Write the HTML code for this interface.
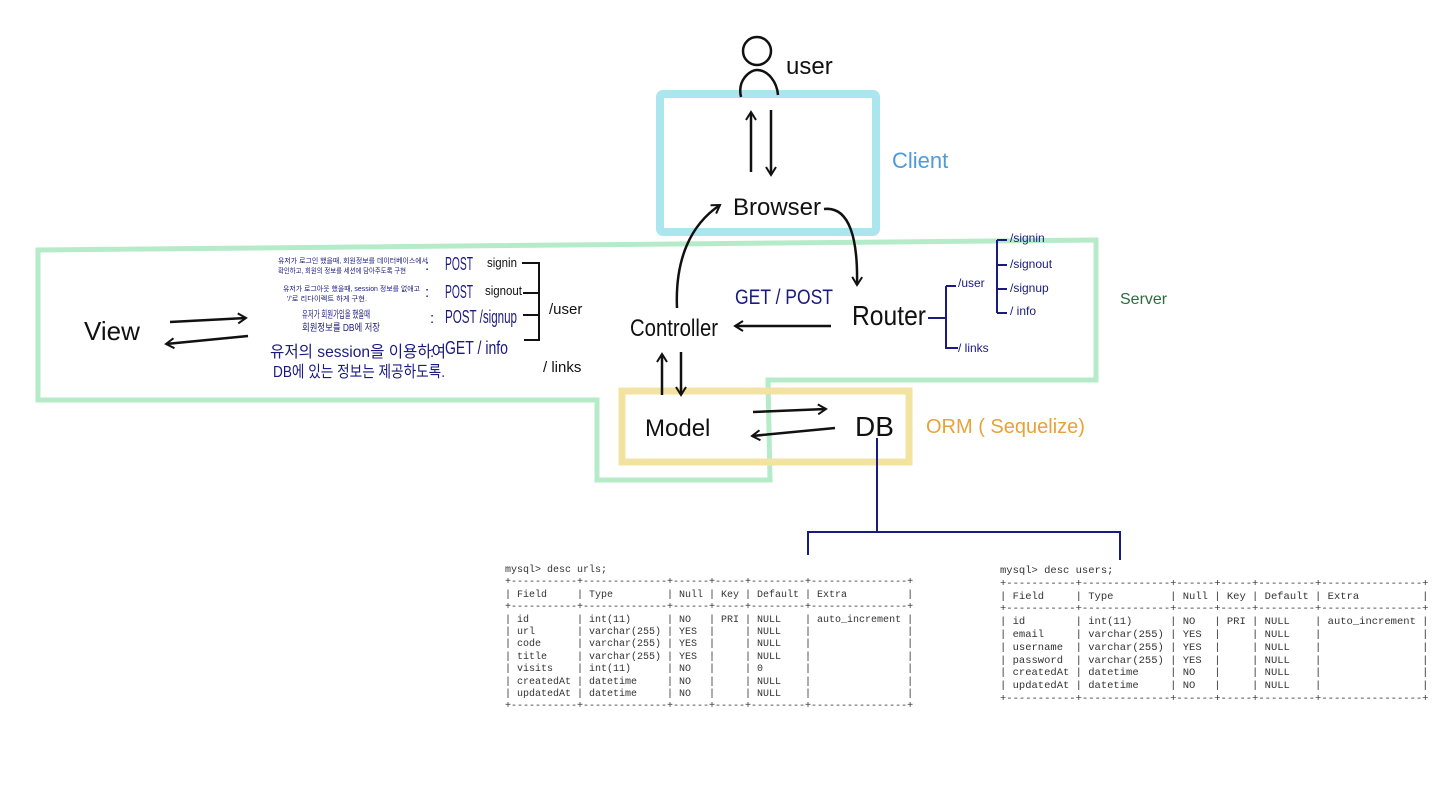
<!DOCTYPE html>
<html><head><meta charset="utf-8"><style>
body{margin:0;background:#fff;width:1450px;height:792px;overflow:hidden;position:relative}
svg{position:absolute;left:0;top:0}
pre{position:absolute;margin:0;font-family:"Liberation Mono",monospace;color:#333}
</style></head><body>
<svg width="1450" height="792" viewBox="0 0 1450 792" font-family="Liberation Sans, Noto Sans CJK KR, sans-serif">
<defs><marker id="a" markerWidth="12" markerHeight="12" refX="9" refY="6" orient="auto" markerUnits="userSpaceOnUse"><path d="M1,1 L9,6 L1,11" fill="none" stroke="#111" stroke-width="2"/></marker></defs>
<path d="M38,250 L1096,240 L1096,380 L768,380 L770,480 L597,480 L597,400 L38,400 Z" fill="none" stroke="#b5ebc9" stroke-width="5"/>
<rect x="660" y="94" width="216" height="138" rx="3" fill="none" stroke="#abe5ee" stroke-width="8"/>
<rect x="622" y="391" width="287" height="71" fill="none" stroke="#f3e3a0" stroke-width="7"/>
<circle cx="757" cy="51" r="14" fill="none" stroke="#111" stroke-width="2.5"/>
<path d="M741,97 C737,80 750,70 757,70 C768,70 777,82 778,95" fill="none" stroke="#111" stroke-width="2.5"/>
<text x="786" y="74" font-size="24" fill="#111">user</text>
<text x="892" y="168" font-size="22" fill="#4f9ad8">Client</text>
<text x="1120" y="304" font-size="16" fill="#2e6b3e">Server</text>
<text x="926" y="433" font-size="20" fill="#e9a23a">ORM ( Sequelize)</text>
<line x1="751" y1="172" x2="751" y2="112" stroke="#111" stroke-width="2.5" marker-end="url(#a)"/>
<line x1="771" y1="110" x2="771" y2="175" stroke="#111" stroke-width="2.5" marker-end="url(#a)"/>
<text x="733" y="215" font-size="24" fill="#111">Browser</text>
<path d="M824,209 C850,206 858,240 857,285" fill="none" stroke="#111" stroke-width="2.5" marker-end="url(#a)"/>
<path d="M677,308 C675,260 690,225 720,205" fill="none" stroke="#111" stroke-width="2.5" marker-end="url(#a)"/>
<text x="852" y="325" font-size="28" fill="#111" textLength="74" lengthAdjust="spacingAndGlyphs">Router</text>
<text x="735" y="304" font-size="21" fill="#1a1a80" textLength="98" lengthAdjust="spacingAndGlyphs">GET / POST</text>
<line x1="831" y1="326" x2="735" y2="326" stroke="#111" stroke-width="2.5" marker-end="url(#a)"/>
<text x="630" y="336" font-size="24" fill="#111" textLength="88" lengthAdjust="spacingAndGlyphs">Controller</text>
<line x1="662" y1="395" x2="662" y2="354" stroke="#111" stroke-width="2.5" marker-end="url(#a)"/>
<line x1="681" y1="352" x2="681" y2="395" stroke="#111" stroke-width="2.5" marker-end="url(#a)"/>
<text x="645" y="436" font-size="24" fill="#111">Model</text>
<line x1="753" y1="412" x2="826" y2="409" stroke="#111" stroke-width="2.5" marker-end="url(#a)"/>
<line x1="835" y1="428" x2="752" y2="436" stroke="#111" stroke-width="2.5" marker-end="url(#a)"/>
<text x="855" y="436" font-size="28" fill="#111">DB</text>
<path d="M877,438 L877,532 M808,555 L808,532 L1120,532 L1120,560" fill="none" stroke="#1a1a80" stroke-width="2"/>
<text x="84" y="340" font-size="26" fill="#111">View</text>
<line x1="170" y1="322" x2="246" y2="318" stroke="#111" stroke-width="2.5" marker-end="url(#a)"/>
<line x1="248" y1="336" x2="166" y2="344" stroke="#111" stroke-width="2.5" marker-end="url(#a)"/>
<path d="M928,318 L946,318 M946,286 L946,348 L958,348 M946,286 L956,286 M997,240 L997,313 M997,240 L1007,240 M997,265 L1007,265 M997,289 L1007,289 M997,313 L1007,313" fill="none" stroke="#1a1a80" stroke-width="2"/>
<g font-size="12" fill="#1a1a80">
<text x="958" y="287">/user</text>
<text x="1010" y="242">/signin</text>
<text x="1010" y="268">/signout</text>
<text x="1010" y="292">/signup</text>
<text x="1010" y="315">/ info</text>
<text x="958" y="352">/ links</text>
</g>
<g fill="#1a1a80" lengthAdjust="spacingAndGlyphs">
<text x="278" y="263" font-size="7" textLength="150" lengthAdjust="spacingAndGlyphs">유저가 로그인 했을때, 회원정보를 데이터베이스에서</text>
<text x="278" y="273" font-size="7" textLength="128" lengthAdjust="spacingAndGlyphs">확인하고, 회원의 정보를 세션에 담아주도록 구현</text>
<text x="283" y="291" font-size="7" textLength="137" lengthAdjust="spacingAndGlyphs">유저가 로그아웃 했을때, session 정보를 없애고</text>
<text x="287" y="301" font-size="7" textLength="80" lengthAdjust="spacingAndGlyphs">'/'로 리다이렉트 하게 구현.</text>
<text x="302" y="318" font-size="10" textLength="68" lengthAdjust="spacingAndGlyphs">유저가 회원가입을 했을때</text>
<text x="302" y="331" font-size="10" textLength="78" lengthAdjust="spacingAndGlyphs">회원정보를 DB에 저장</text>
<text x="270" y="357" font-size="16" textLength="176" lengthAdjust="spacingAndGlyphs">유저의 session을 이용하여</text>
<text x="273" y="377" font-size="16" textLength="172" lengthAdjust="spacingAndGlyphs">DB에 있는 정보는 제공하도록.</text>
<text x="425" y="270" font-size="15">:</text><text x="445" y="270" font-size="18" textLength="28" lengthAdjust="spacingAndGlyphs">POST</text>
<text x="425" y="297" font-size="15">:</text><text x="445" y="298" font-size="18" textLength="28" lengthAdjust="spacingAndGlyphs">POST</text>
<text x="430" y="323" font-size="15">:</text><text x="445" y="323" font-size="18" textLength="72" lengthAdjust="spacingAndGlyphs">POST /signup</text>
<text x="430" y="357" font-size="15">:</text><text x="445" y="354" font-size="18" textLength="63" lengthAdjust="spacingAndGlyphs">GET / info</text>
</g>
<text x="487" y="267" font-size="13" fill="#111" textLength="30" lengthAdjust="spacingAndGlyphs">signin</text>
<text x="485" y="295" font-size="13" fill="#111" textLength="37" lengthAdjust="spacingAndGlyphs">signout</text>
<path d="M522,263 L539,263 L539,340 L524,340 M523,293 L539,293 M523,315 L539,315" fill="none" stroke="#111" stroke-width="2"/>
<text x="549" y="314" font-size="15" fill="#111">/user</text>
<text x="543" y="372" font-size="15" fill="#111">/ links</text>
</svg>
<pre style="left:505px;top:565px;font-size:10px;line-height:12.4px">mysql&gt; desc urls;
+-----------+--------------+------+-----+---------+----------------+
| Field     | Type         | Null | Key | Default | Extra          |
+-----------+--------------+------+-----+---------+----------------+
| id        | int(11)      | NO   | PRI | NULL    | auto_increment |
| url       | varchar(255) | YES  |     | NULL    |                |
| code      | varchar(255) | YES  |     | NULL    |                |
| title     | varchar(255) | YES  |     | NULL    |                |
| visits    | int(11)      | NO   |     | 0       |                |
| createdAt | datetime     | NO   |     | NULL    |                |
| updatedAt | datetime     | NO   |     | NULL    |                |
+-----------+--------------+------+-----+---------+----------------+</pre>
<pre style="left:1000px;top:565px;font-size:10.5px;line-height:12.8px">mysql&gt; desc users;
+-----------+--------------+------+-----+---------+----------------+
| Field     | Type         | Null | Key | Default | Extra          |
+-----------+--------------+------+-----+---------+----------------+
| id        | int(11)      | NO   | PRI | NULL    | auto_increment |
| email     | varchar(255) | YES  |     | NULL    |                |
| username  | varchar(255) | YES  |     | NULL    |                |
| password  | varchar(255) | YES  |     | NULL    |                |
| createdAt | datetime     | NO   |     | NULL    |                |
| updatedAt | datetime     | NO   |     | NULL    |                |
+-----------+--------------+------+-----+---------+----------------+</pre>
</body></html>
